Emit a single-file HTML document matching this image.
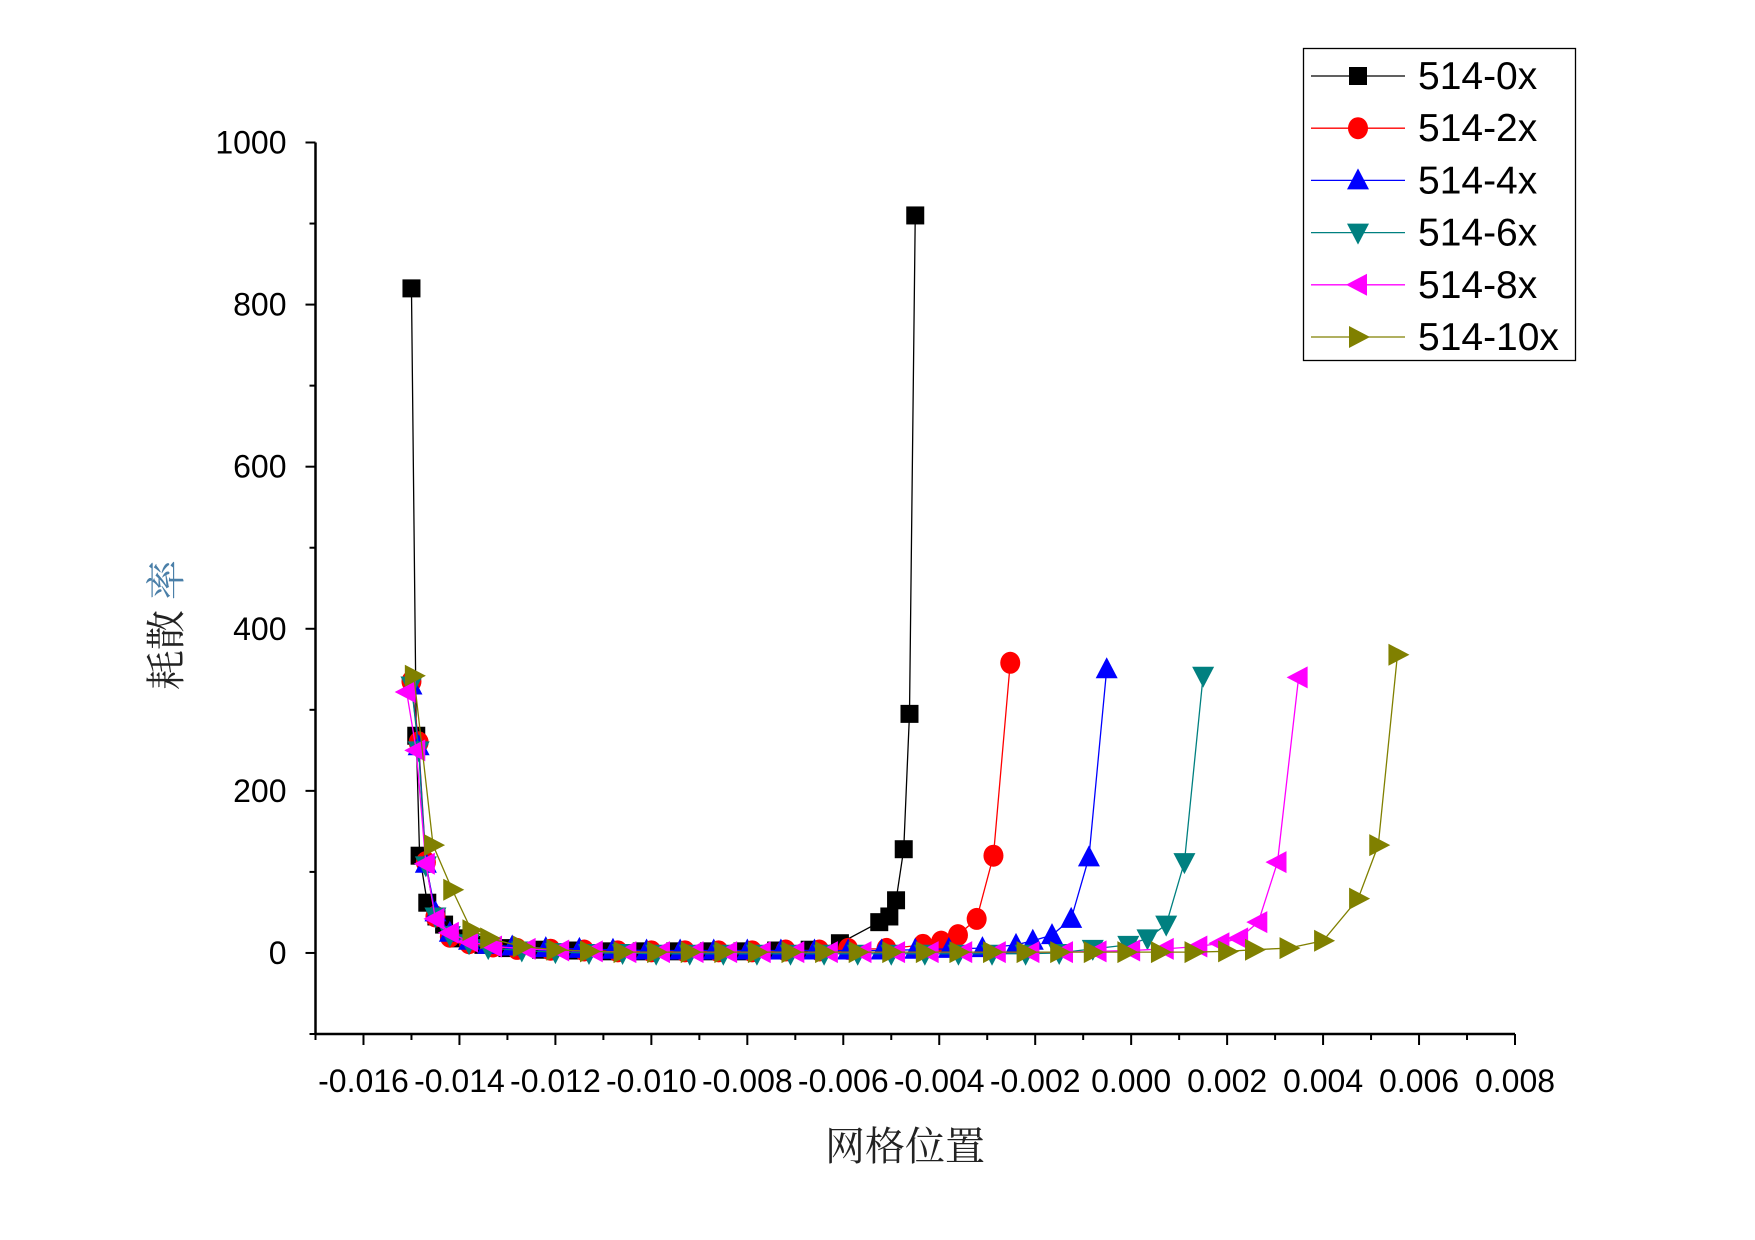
<!DOCTYPE html>
<html><head><meta charset="utf-8">
<style>
html,body{margin:0;padding:0;background:#fff;}
svg{display:block;font-family:"Liberation Sans","Noto Sans CJK SC",sans-serif;}
</style></head>
<body>
<svg id="chart" width="1755" height="1240" viewBox="0 0 1755 1240" xmlns="http://www.w3.org/2000/svg">
<g id="axes"></g>
<g id="plot"></g>
<g id="legend"></g>
<text x="905" y="1160" font-size="40" text-anchor="middle" fill="#222" font-family="'Liberation Serif','Noto Serif CJK SC',serif">网格位置</text>
<text transform="translate(180,625) rotate(-90)" font-size="40" text-anchor="middle" fill="#222" font-family="'Liberation Serif','Noto Serif CJK SC',serif">耗散 <tspan fill="#4a7fa8">率</tspan></text>
</svg>
<script>
const xTicks = [-0.016,-0.014,-0.012,-0.010,-0.008,-0.006,-0.004,-0.002,0.000,0.002,0.004,0.006,0.008];
const xTickLabels = ["-0.016","-0.014","-0.012","-0.010","-0.008","-0.006","-0.004","-0.002","0.000","0.002","0.004","0.006","0.008"];
const yTicks = [0,200,400,600,800,1000];
const yTickLabels = ["0","200","400","600","800","1000"];
const seriesNames = ["514-0x","514-2x","514-4x","514-6x","514-8x","514-10x"];
const seriesColors = ["#000000","#ff0000","#0000ff","#008080","#ff00ff","#808000"];
const seriesMarkers = ["square","circle","up","down","left","right"];

const x0 = [-0.0150,-0.0149,-0.01483,-0.01467,-0.01448,-0.01432,-0.0140,-0.0135,-0.0130,-0.0123,-0.0116,-0.0109,-0.0102,-0.0095,-0.0088,-0.0081,-0.0074,-0.0067,-0.00607,-0.00525,-0.00504,-0.0049,-0.00474,-0.00462,-0.0045];
const y0 = [820,268,120,62,45,35,18,10,6,4,3,2,2,2,2,2,3,4,12,38,45,65,128,295,910];
const x1 = [-0.0150,-0.01485,-0.0147,-0.0145,-0.0142,-0.0138,-0.0133,-0.0128,-0.0121,-0.0114,-0.0107,-0.0100,-0.0093,-0.0086,-0.0079,-0.0072,-0.0065,-0.0059,-0.0051,-0.00434,-0.00396,-0.00361,-0.00322,-0.00287,-0.00252];
const y1 = [335,260,112,45,20,12,8,5,4,3,2,2,2,2,2,3,3,5,5,10,14,22,42,120,358];
const x2 = [-0.0150,-0.01485,-0.0147,-0.0145,-0.0142,-0.0138,-0.0134,-0.0129,-0.0122,-0.0115,-0.0108,-0.0101,-0.0094,-0.0087,-0.0080,-0.0073,-0.0066,-0.0059,-0.0052,-0.0045,-0.0038,-0.0031,-0.0024,-0.00205,-0.00165,-0.00125,-0.00088,-0.00051];
const y2 = [330,255,110,50,25,15,10,8,6,5,4,3,3,3,3,3,3,3,3,4,5,6,10,15,22,42,118,350];
const x3 = [-0.0150,-0.01485,-0.0147,-0.0145,-0.0142,-0.0138,-0.0134,-0.0127,-0.0120,-0.0113,-0.0106,-0.0099,-0.0092,-0.0085,-0.0078,-0.0071,-0.0064,-0.0057,-0.0050,-0.0043,-0.0036,-0.0029,-0.0022,-0.0015,-0.0008,-0.00006,0.00034,0.00073,0.00111,0.0015];
const y3 = [330,250,108,45,22,12,6,3,1,0,0,-1,-1,-1,-1,-1,-1,-1,-1,-1,-1,-1,-1,0,5,10,18,35,112,342];
const x4 = [-0.0151,-0.0149,-0.0147,-0.0145,-0.0142,-0.0138,-0.0133,-0.0126,-0.0119,-0.0112,-0.0105,-0.0098,-0.0091,-0.0084,-0.0077,-0.0070,-0.0063,-0.0056,-0.0049,-0.0042,-0.0035,-0.0028,-0.0021,-0.0014,-0.0007,0.0000,0.0007,0.0014,0.00186,0.00225,0.00265,0.00305,0.00349];
const y4 = [322,250,110,42,25,14,8,5,3,2,1,1,1,1,1,1,1,1,1,1,1,1,1,1,2,3,5,8,12,18,38,112,340];
const x5 = [-0.01495,-0.01455,-0.01415,-0.01375,-0.01338,-0.0127,-0.0120,-0.0113,-0.0106,-0.0099,-0.0092,-0.0085,-0.0078,-0.0071,-0.0064,-0.0057,-0.0050,-0.0043,-0.0036,-0.0029,-0.0022,-0.0015,-0.0008,-0.0001,0.0006,0.0013,0.0020,0.00256,0.00328,0.0040,0.00473,0.00515,0.00555];
const y5 = [342,133,78,28,18,8,4,2,1,1,1,1,1,1,1,1,1,1,1,1,1,1,1,1,1,1,2,4,6,15,67,133,368];
const seriesX = [x0,x1,x2,x3,x4,x5];
const seriesY = [y0,y1,y2,y3,y4,y5];

const NS="http://www.w3.org/2000/svg";
const L=315.5,R=1515,T=142.5,B=1034;
const xMin=-0.017,xMax=0.008,yMin=-100,yMax=1000;
function sx(v){return L+(v-xMin)/(xMax-xMin)*(R-L);}
function sy(v){return B-(v-yMin)/(yMax-yMin)*(B-T);}
function mk(tag,attrs,parent){const e=document.createElementNS(NS,tag);for(const k in attrs)e.setAttribute(k,attrs[k]);parent.appendChild(e);return e;}

const axes=document.getElementById('axes');
let e=mk('line',{x1:L,y1:T,x2:L,y2:B,stroke:'#000','stroke-width':2.5},axes);


e=mk('line',{x1:L,y1:B,x2:R,y2:B,stroke:'#000','stroke-width':2.5},axes);


for(let v=yMin;v<=yMax;v+=100){
  const major=(v%200===0);
  e=mk('line',{x1:L-(major?10:6),y1:sy(v),x2:L,y2:sy(v),stroke:'#000','stroke-width':2},axes);
  
  
}
yTicks.forEach((v,i)=>{
  e=mk('text',{x:L-29,y:sy(v)+11,'font-size':32,'text-anchor':'end',fill:'#000'},axes);
  e.textContent=yTickLabels[i];
  
  
});
for(let k=0;k<=25;k++){
  const v=xMin+k*0.001;
  const major=(k%2===1);
  e=mk('line',{x1:sx(v),y1:B,x2:sx(v),y2:B+(major?11:6),stroke:'#000','stroke-width':2},axes);
  
  
}
xTicks.forEach((v,i)=>{
  e=mk('text',{x:sx(v),y:B+58,'font-size':32,'text-anchor':'middle',fill:'#000'},axes);
  e.textContent=xTickLabels[i];
  
  
});

function marker(type,cx,cy,color,parent){
  let m;
  if(type==='square') m=mk('rect',{x:cx-9,y:cy-9,width:18,height:18,fill:color},parent);
  else if(type==='circle') m=mk('ellipse',{cx:cx,cy:cy,rx:10,ry:11,fill:color},parent);
  else {
    let p;
    if(type==='up') p=[[cx,cy-12],[cx-11,cy+9],[cx+11,cy+9]];
    else if(type==='down') p=[[cx,cy+12],[cx-11,cy-9],[cx+11,cy-9]];
    else if(type==='left') p=[[cx-12,cy],[cx+9,cy-11],[cx+9,cy+11]];
    else p=[[cx+12,cy],[cx-9,cy-11],[cx-9,cy+11]];
    m=mk('polygon',{points:p.map(q=>q.join(',')).join(' '),fill:color},parent);
  }
  return m;
}

const plot=document.getElementById('plot');
seriesX.forEach((xs,si)=>{
  const g=mk('g',{},plot);
  
  
  const ys=seriesY[si];
  const pl=mk('polyline',{points:xs.map((x,i)=>sx(x)+','+sy(ys[i])).join(' '),fill:'none',stroke:seriesColors[si],'stroke-width':1.3},g);
  
  
  xs.forEach((x,i)=>{
    const m=marker(seriesMarkers[si],sx(x),sy(ys[i]),seriesColors[si],g);
    
    
  });
});

const leg=document.getElementById('legend');
e=mk('rect',{x:1303.5,y:48.5,width:272,height:312,fill:'#fff',stroke:'#000','stroke-width':1.3},leg);


seriesNames.forEach((n,i)=>{
  const y=76+i*52.2;
  const g=mk('g',{},leg);
  
  
  mk('line',{x1:1311,y1:y,x2:1405,y2:y,stroke:seriesColors[i],'stroke-width':1.3},g);
  marker(seriesMarkers[i],1358,y,seriesColors[i],g);
  const t=mk('text',{x:1418,y:y+13,'font-size':39,fill:'#000'},g);
  t.textContent=n;
});
</script>
</body></html>
